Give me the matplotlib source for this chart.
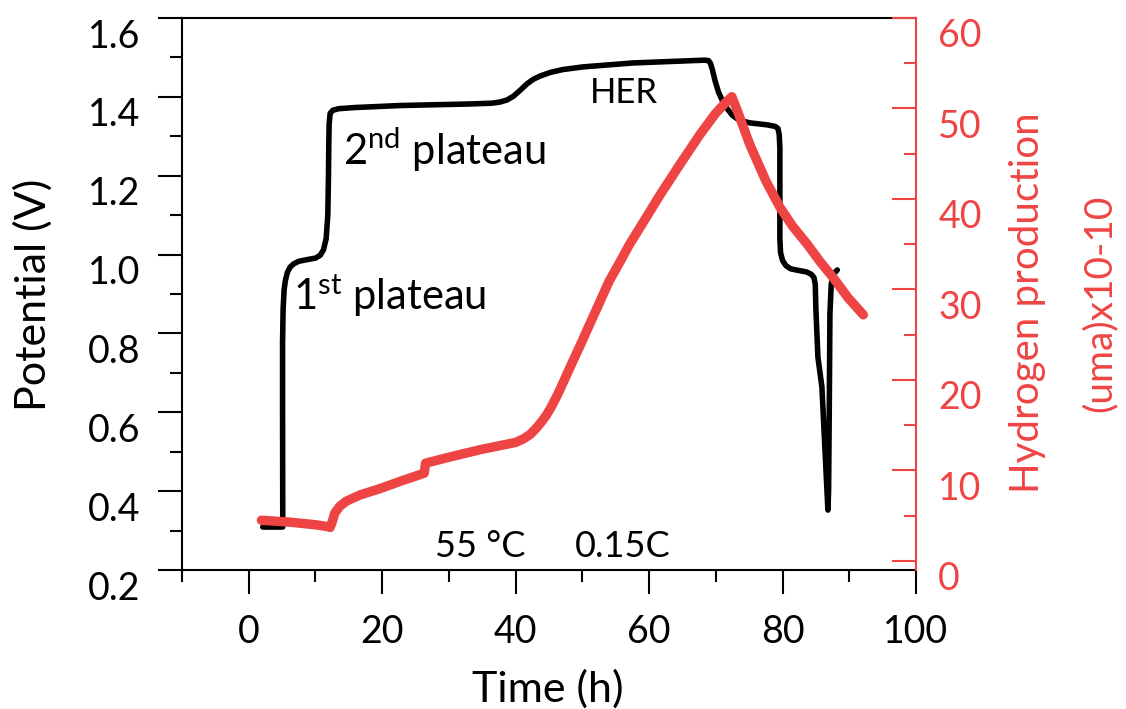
import matplotlib
matplotlib.use("Agg")
import matplotlib.pyplot as plt
import matplotlib.transforms as mtransforms

plt.rcParams['font.family'] = ['Lato', 'DejaVu Sans']
plt.rcParams['mathtext.fontset'] = 'custom'
plt.rcParams['mathtext.rm'] = 'Lato'
plt.rcParams['mathtext.it'] = 'Lato:italic'
plt.rcParams['mathtext.bf'] = 'Lato:bold'

RED = '#EF4444'

# Potential (V) vs time (h)
pot_time = [2.1, 5.1, 5.07, 5.07, 5.15, 5.3, 5.5, 5.8, 6.2, 6.7, 7.5, 9.0, 10.0, 10.7,
            11.2, 11.6, 11.85, 11.95, 12.0, 12.05, 12.2, 12.6, 13.5, 16.0, 22.7, 33.2,
            36.5, 37.7, 38.7, 39.7, 40.7, 41.7, 42.7, 43.7, 45.2, 47.0, 50.1, 57.6, 68.2,
            68.9, 69.2, 69.5, 69.9, 70.4, 71.0, 71.7, 72.5, 73.5, 75.1, 77.7, 78.9, 79.3,
            79.5, 79.6, 79.6, 79.7, 80.0, 80.5, 81.2, 82.3, 83.6, 84.3, 84.7, 84.9, 85.0,
            85.3, 85.9, 86.8, 86.9, 87.0, 87.1, 87.3, 87.6, 88.2]
pot_volt = [0.309, 0.309, 0.631, 0.776, 0.86, 0.91, 0.935, 0.955, 0.968, 0.976, 0.983,
            0.988, 0.991, 0.998, 1.012, 1.04, 1.10, 1.20, 1.28, 1.33, 1.358, 1.366, 1.370,
            1.373, 1.378, 1.382, 1.384, 1.387, 1.392, 1.402, 1.417, 1.433, 1.445, 1.453,
            1.462, 1.469, 1.476, 1.486, 1.493, 1.492, 1.485, 1.468, 1.44, 1.412, 1.39,
            1.37, 1.353, 1.341, 1.334, 1.329, 1.325, 1.320, 1.305, 1.27, 1.04, 1.005,
            0.985, 0.972, 0.964, 0.960, 0.956, 0.950, 0.942, 0.925, 0.86, 0.74, 0.664,
            0.352, 0.40, 0.60, 0.85, 0.925, 0.950, 0.961]

# Hydrogen production (uma)x10-10 vs time (h)
h2_time = [1.9, 6.0, 10.0, 11.8, 12.2, 12.5, 12.9, 13.6, 14.6, 16.7, 19.7, 22.7, 26.3,
           26.5, 30.2, 34.7, 38.0, 40.0, 41.2, 42.2, 43.0, 43.8, 44.6, 45.4, 46.3, 47.3,
           48.4, 49.6, 51.0, 52.6, 54.0, 55.6, 57.0, 58.6, 61.6, 64.6, 67.6, 69.9, 71.4,
           72.4, 73.2, 75.1, 77.5, 79.6, 81.5, 83.7, 85.6, 87.6, 89.8, 92.1]
h2_val = [4.5, 4.3, 4.0, 3.8, 3.7, 4.3, 5.3, 6.0, 6.6, 7.3, 8.0, 8.8, 9.7,
          10.8, 11.5, 12.3, 12.8, 13.1, 13.5, 14.0, 14.6, 15.3, 16.1, 17.1, 18.4, 20.0,
          21.8, 23.7, 26.0, 28.6, 30.9, 33.0, 34.9, 36.8, 40.4, 43.8, 47.1, 49.4, 50.6,
          51.3, 49.8, 46.0, 42.0, 39.1, 37.0, 35.0, 33.1, 31.3, 29.1, 27.2]

x_major = [0, 20, 40, 60, 80, 100]
x_minor = [-10, 10, 30, 50, 70, 90]
y_major = [0.2, 0.4, 0.6, 0.8, 1.0, 1.2, 1.4, 1.6]
y_minor = [0.3, 0.5, 0.7, 0.9, 1.1, 1.3, 1.5]
y2_major = [0, 10, 20, 30, 40, 50, 60]
y2_minor = [5, 15, 25, 35, 45, 55]

W, H = 1126, 709
fig = plt.figure(figsize=(W / 100, H / 100), dpi=100)
L, R, T, B = 182, 916, 18, 570
ax = fig.add_axes([L / W, 1 - B / H, (R - L) / W, (B - T) / H])
ax2 = ax.twinx()

ax.plot(pot_time, pot_volt, color='black', lw=4.0, solid_joinstyle='round',
        solid_capstyle='round')
ax2.plot(h2_time, h2_val, color=RED, lw=6.8, solid_joinstyle='round',
         solid_capstyle='round')

ax.set_xlim(-10, 100)
ax.set_ylim(0.2, 1.6)
ax2.set_ylim(-1, 60)

ax.set_xticks(x_major)
ax.set_xticks(x_minor, minor=True)
ax.set_yticks(y_major)
ax.set_yticks(y_minor, minor=True)
ax.set_yticklabels([f"{v:.1f}" for v in y_major])
ax2.set_yticks(y2_major)
ax2.set_yticks(y2_minor, minor=True)

for a in (ax, ax2):
    for s in a.spines.values():
        s.set_linewidth(1.5)
ax2.spines['right'].set_color(RED)
ax2.spines['left'].set_visible(False)
ax2.spines['top'].set_visible(False)
ax2.spines['bottom'].set_visible(False)
ax.spines['right'].set_visible(False)

ax.tick_params(axis='x', which='major', direction='out', length=17, width=1.5,
               labelsize=27, pad=15)
ax.tick_params(axis='x', which='minor', direction='out', length=8.6, width=1.5)
ax.tick_params(axis='y', which='major', direction='out', length=17, width=1.5,
               labelsize=27, pad=13)
ax.tick_params(axis='y', which='minor', direction='out', length=8.6, width=1.5)
ax2.tick_params(axis='y', which='major', direction='in', length=17, width=1.5,
                labelsize=27, pad=16, colors=RED)
ax2.tick_params(axis='y', which='minor', direction='in', length=8.6, width=1.5,
                colors=RED)

shift = mtransforms.ScaledTranslation(0, -15 / 100, fig.dpi_scale_trans)
for lab in ax.get_yticklabels() + ax2.get_yticklabels():
    lab.set_transform(lab.get_transform() + shift)

# annotations
ax.text(6.6, 0.859, r'1$^{\mathrm{st}}$ plateau', fontsize=30, ha='left', va='baseline')
ax.text(14.1, 1.227, r'2$^{\mathrm{nd}}$ plateau', fontsize=30, ha='left', va='baseline')
ax.text(51.2, 1.384, 'HER', fontsize=25, ha='left', va='baseline')
ax.text(27.9, 0.233, '55 °C', fontsize=26, ha='left', va='baseline')
ax.text(48.9, 0.233, '0.15C', fontsize=26, ha='left', va='baseline')

# axis titles
fig.text(33 / W, 1 - 295 / H, 'Potential (V)', rotation=90, fontsize=31,
         ha='center', va='center')
fig.text(548 / W, 1 - 689 / H, 'Time (h)', fontsize=31, ha='center', va='center')
fig.text(1028 / W, 1 - 303 / H, 'Hydrogen production', rotation=90, fontsize=29,
         ha='center', va='center', color=RED)
fig.text(1100 / W, 1 - 303 / H, '(uma)x10-10', rotation=90, fontsize=28,
         ha='center', va='center', color=RED)

fig.savefig('out.png', dpi=100)
